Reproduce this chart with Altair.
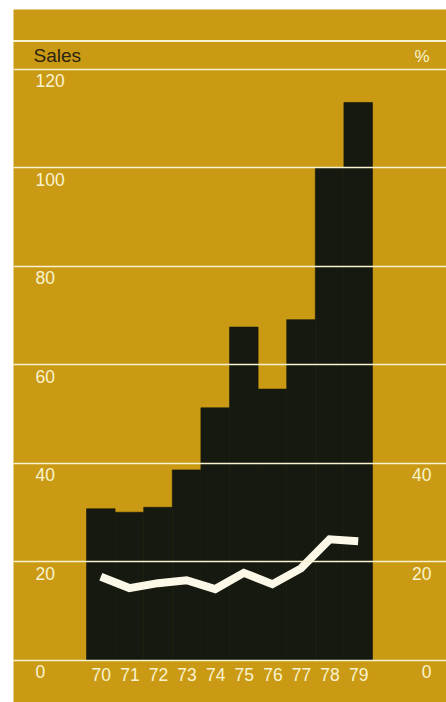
import altair as alt
import pandas as pd

# Annual sales (bars) and percentage (line), 1970-1979
years = [70, 71, 72, 73, 74, 75, 76, 77, 78, 79]
sales = [30.7, 30.0, 31.0, 38.6, 51.2, 67.6, 55.0, 69.1, 100.0, 113.2]
share_pct = [16.9, 14.6, 15.6, 16.2, 14.4, 17.7, 15.4, 18.6, 24.5, 24.1]
sales_ticks = [0, 20, 40, 60, 80, 100, 120]
pct_ticks = [0, 20, 40]

df = pd.DataFrame({"year": years, "sales": sales, "pct": share_pct})

GOLD = "#CB9A14"
INK = "#16190F"
CREAM = "#F8F3CF"
LINE_WHITE = "#FBF8E8"
DARK_TEXT = "#2A2410"

W, H = 433, 693
X_DOMAIN = [66.93, 82.07]
Y_DOMAIN = [-8.53, 132.18]
FONT = "Liberation Sans"

x_scale = alt.Scale(domain=X_DOMAIN, nice=False, zero=False)
x_axis = alt.Axis(
    title=None, orient="bottom", offset=-42, values=years, format="d",
    domain=False, ticks=False, tickSize=0, grid=False, labelAngle=0,
    labelPadding=20, labelBaseline="alphabetic", labelFontSize=17.5,
    labelColor=CREAM, labelFont=FONT, labelFlush=False, labelOverlap=False,
)

y_scale = alt.Scale(domain=Y_DOMAIN, nice=False, zero=False)

left_axis = alt.Axis(
    orient="left", values=sales_ticks, grid=True, gridColor=CREAM,
    gridWidth=1.6, gridOpacity=1, domain=False, ticks=False, tickSize=0,
    labelAlign="left", labelPadding=-22, labelBaseline="alphabetic",
    labelOffset=18, labelFontSize=17.5, labelColor=CREAM, labelFont=FONT,
    labelFlush=False, labelOverlap=False,
    title="Sales", titleAngle=0, titleX=20, titleY=52.7, titleAlign="left",
    titleBaseline="alphabetic", titleFontSize=19, titleFontWeight="normal",
    titleColor=DARK_TEXT, titleFont=FONT, zindex=1,
)

right_axis = alt.Axis(
    orient="right", values=pct_ticks, grid=False, domain=False, ticks=False,
    tickSize=0, labelAlign="right", labelPadding=-15,
    labelBaseline="alphabetic", labelOffset=18, labelFontSize=17.5,
    labelColor=CREAM, labelFont=FONT, labelFlush=False, labelOverlap=False,
    title="%", titleAngle=0, titleX=-17, titleY=52.7, titleAlign="right",
    titleBaseline="alphabetic", titleFontSize=17, titleFontWeight="normal",
    titleColor=CREAM, titleFont=FONT,
)

# each year's bar spans the full year slot, so neighbouring bars touch
bars = alt.Chart(df).transform_calculate(
    x0="datum.year - 0.5", x1="datum.year + 0.5"
).mark_bar(color=INK, stroke=INK, strokeWidth=0.6).encode(
    x=alt.X("x0:Q", scale=x_scale, axis=x_axis),
    x2="x1:Q",
    y=alt.Y("sales:Q", scale=y_scale, axis=left_axis),
    y2=alt.datum(0),
)

# header rule above the "Sales" / "%" captions
header = alt.Chart(df).mark_rule(color=CREAM, strokeWidth=1.6).encode(
    y=alt.value(32), x=alt.value(0), x2=alt.value(W)
)

line = alt.Chart(df).mark_line(
    color=LINE_WHITE, strokeWidth=8, strokeJoin="miter"
).encode(
    x=alt.X("year:Q", scale=x_scale, axis=x_axis),
    y=alt.Y("pct:Q", scale=y_scale, axis=right_axis),
)

chart = (
    alt.layer(bars, header, line)
    .resolve_scale(y="independent")
    .properties(
        width=W,
        height=H,
        autosize=alt.AutoSizeParams(type="none"),
        padding={"left": 13, "top": 9, "right": 0, "bottom": 0},
        background="white",
    )
    .configure(font=FONT)
    .configure_view(fill=GOLD, stroke="transparent")
)

chart.save("out.html", embed_options={"renderer": "svg", "actions": False})
